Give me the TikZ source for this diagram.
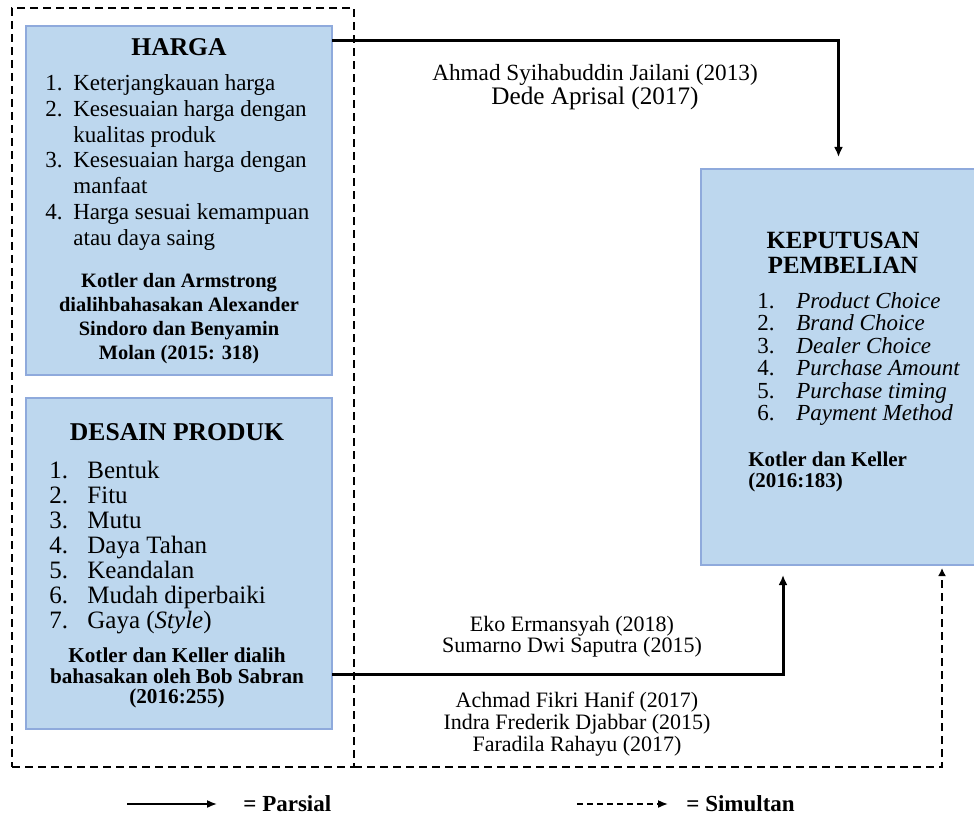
\documentclass[tikz,border=0pt]{standalone}
\usepackage{fontspec}
\setmainfont{Liberation Serif}
\usetikzlibrary{arrows.meta,positioning}

\definecolor{boxfill}{RGB}{189,215,238}
\definecolor{boxline}{RGB}{143,170,220}

\newcommand{\itm}[2]{\makebox[#1][l]{#2}}

\begin{document}
\begin{tikzpicture}[x=0.5pt, y=-0.5pt,
    box/.style={draw=boxline, fill=boxfill, line width=0.8pt,
                inner sep=0pt, outer sep=0pt},
    frame/.style={draw, dash pattern=on 4pt off 2.5pt, line width=0.8pt,
                  inner sep=0pt, outer sep=0pt},
    title/.style={font=\bfseries\fontsize{12.8}{11}\selectfont,
                  align=center, inner sep=0pt},
    list/.style={align=left, inner sep=0pt, anchor=west},
    src/.style={font=\bfseries\fontsize{10.2}{12}\selectfont,
                align=center, inner sep=0pt},
    lbl/.style={font=\fontsize{11}{10.5}\selectfont, align=center, inner sep=0pt},
    arr/.style={-{Latex[length=5pt,width=4.5pt]}, line width=1.5pt},
    simarr/.style={-{Latex[length=4pt,width=4pt]},
                   dash pattern=on 4pt off 2.5pt, line width=0.8pt},
    legarr/.style={-{Latex[length=5pt,width=4pt]}, line width=0.8pt}
]
\useasboundingbox (0,0) rectangle (974,818);

% variabel X
\node[frame, minimum width=171pt, minimum height=379.5pt] (variabel) at (183,387.5) {};

\node[box, minimum width=153pt, minimum height=174.5pt] (harga) at (179,200.5) {};
\node[title] (hargatitle) at (179,47) {HARGA};
\node[list, font=\fontsize{11.5}{12.85}\selectfont] (hargalist) at (45,162.5)
    {\itm{14pt}{1.}Keterjangkauan harga\\
     \itm{14pt}{2.}Kesesuaian harga dengan\\
     \hspace*{14pt}kualitas produk\\
     \itm{14pt}{3.}Kesesuaian harga dengan\\
     \hspace*{14pt}manfaat\\
     \itm{14pt}{4.}Harga sesuai kemampuan\\
     \hspace*{14pt}atau daya saing};
\node[src] (hargasrc) at (179,319)
    {Kotler dan Armstrong\\dialihbahasakan Alexander\\
     Sindoro dan Benyamin\\Molan (2015: 318)};

\node[box, minimum width=153pt, minimum height=165.5pt] (desain) at (179,563.5) {};
\node[title] (desaintitle) at (177,432) {DESAIN PRODUK};
\node[list, font=\fontsize{12.5}{12.5}\selectfont] (desainlist) at (49,548)
    {\itm{19pt}{1.}Bentuk\\
     \itm{19pt}{2.}Fitu\\
     \itm{19pt}{3.}Mutu\\
     \itm{19pt}{4.}Daya Tahan\\
     \itm{19pt}{5.}Keandalan\\
     \itm{19pt}{6.}Mudah diperbaiki\\
     \itm{19pt}{7.}Gaya (\textit{Style})};
\node[src, font=\bfseries\fontsize{10.6}{10.2}\selectfont] (desainsrc) at (177,678)
    {Kotler dan Keller dialih\\bahasakan oleh Bob Sabran\\(2016:255)};

% variabel Y
\node[box, minimum width=137.5pt, minimum height=198pt] (keputusan) at (838.5,367) {};
\node[title, font=\bfseries\fontsize{12.4}{12.2}\selectfont] (keputusantitle) at (843,253)
    {KEPUTUSAN\\PEMBELIAN};
\node[list, font=\fontsize{11.5}{11.2}\selectfont] (keputusanlist) at (757,359)
    {\itm{19.5pt}{1.}\textit{Product Choice}\\
     \itm{19.5pt}{2.}\textit{Brand Choice}\\
     \itm{19.5pt}{3.}\textit{Dealer Choice}\\
     \itm{19.5pt}{4.}\textit{Purchase Amount}\\
     \itm{19.5pt}{5.}\textit{Purchase timing}\\
     \itm{19.5pt}{6.}\textit{Payment Method}};
\node[list, font=\bfseries\fontsize{10.5}{10.5}\selectfont] (keputusansrc) at (748,472)
    {Kotler dan Keller\\(2016:183)};

% hubungan
\draw[arr, shorten >=6pt] ([yshift=-7.5pt]harga.north east) -| (keputusan.north);
\draw[arr, shorten >=5pt] ([yshift=27.5pt]desain.south east) -| ([xshift=41pt]keputusan.south west);
\draw[simarr, shorten >=1.5pt] (variabel.south east) -| ([xshift=-17pt]keputusan.south east);

\node[inner sep=0pt, align=center] (lblharga) at (595,87)
    {{\fontsize{11.6}{12}\selectfont Ahmad Syihabuddin Jailani (2013)}\\
     {\fontsize{12.6}{12}\selectfont Dede Aprisal (2017)}};
\node[lbl] (lbldesain) at (572,637)
    {Eko Ermansyah (2018)\\Sumarno Dwi Saputra (2015)};
\node[lbl, font=\fontsize{11}{9.8}\selectfont] (lblsimultan) at (577,724)
    {Achmad Fikri Hanif (2017)\\Indra Frederik Djabbar (2015)\\Faradila Rahayu (2017)};

% keterangan
\coordinate (legp) at (127,804);
\coordinate (legs) at (577,804);
\node[anchor=west, inner sep=0pt, font=\bfseries\fontsize{11.5}{12}\selectfont] (parsial) at (243,804) {= Parsial};
\node[anchor=west, inner sep=0pt, font=\bfseries\fontsize{11.5}{12}\selectfont] (simultan) at (686,804) {= Simultan};
\draw[legarr, shorten >=13pt] (legp) -- (parsial.west);
\draw[legarr, dash pattern=on 3pt off 2pt, shorten >=9pt] (legs) -- (simultan.west);

\end{tikzpicture}
\end{document}
